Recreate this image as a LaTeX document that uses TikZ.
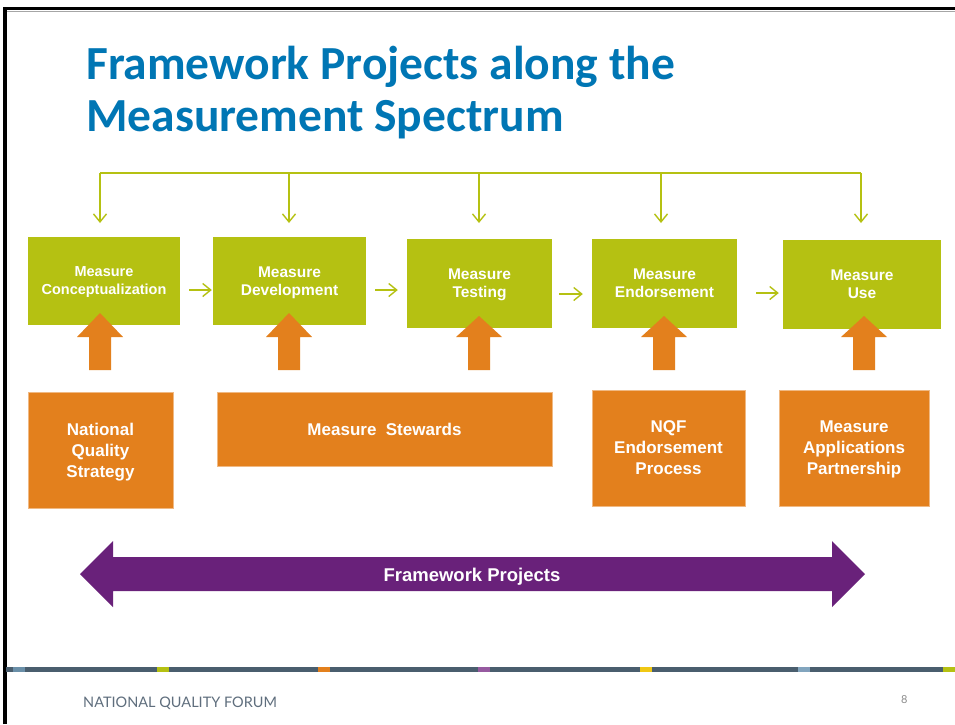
\documentclass[tikz,border=0pt]{standalone}
\usepackage{fontspec}
\usepackage{tikz}
\usetikzlibrary{arrows.meta}
\setmainfont{Liberation Sans}
\newfontfamily\titlefont{Carlito}
\newfontfamily\footfont{Lato}
\definecolor{titleblue}{RGB}{0,118,180}
\definecolor{measgreen}{RGB}{181,193,18}
\definecolor{steworange}{RGB}{227,128,29}
\definecolor{spanpurple}{RGB}{105,33,122}
\definecolor{barslate}{RGB}{74,94,110}
\definecolor{barblue}{RGB}{106,143,168}
\definecolor{barlilac}{RGB}{150,90,160}
\definecolor{baryellow}{RGB}{240,200,20}
\definecolor{barsky}{RGB}{130,165,190}
\definecolor{footgray}{RGB}{95,110,125}
\begin{document}
\begin{tikzpicture}
        [x=1pt,y=-1pt,
         measbox/.style={rectangle,fill=measgreen,text=white,inner sep=0pt,align=center,text depth=0pt,font=\bfseries\fontsize{15.5}{18}\selectfont},
         stewbox/.style={rectangle,fill=steworange,draw=steworange!55!white,line width=.6pt,text=white,inner sep=0pt,align=center,text depth=0pt,font=\bfseries\fontsize{17}{21}\selectfont},
         feed/.style={draw=measgreen,line width=1.4pt},
         flow/.style={feed,-{Straight Barb[length=8pt,width=13pt]}}]
        \useasboundingbox (0,0) rectangle (955,724);
        \fill[white] (0,0) rectangle (955,724);
        % slide frame
        \draw[line width=3.5pt] (5,724) -- (5,8.5) -- (955,8.5);
        \draw[black!35,line width=1pt] (7,11) -- (955,11);

        \node[anchor=base west,align=left,inner sep=0pt,text=titleblue,font=\titlefont\bfseries\fontsize{47.5}{52}\selectfont] (title) at (86,131) {Framework Projects along the\\Measurement Spectrum};

        % measurement spectrum
        \node[measbox,minimum width=152pt,minimum height=88pt,font=\bfseries\fontsize{14.5}{18}\selectfont] (cncp) at (104,281) {Measure\\Conceptualization};
        \node[measbox,minimum width=153pt,minimum height=88pt] (devl) at (289.5,281) {Measure\\Development};
        \node[measbox,minimum width=145pt,minimum height=89pt] (test) at (479.5,283.5) {Measure\\Testing};
        \node[measbox,minimum width=145pt,minimum height=89pt] (endo) at (664.5,283.5) {Measure\\Endorsement};
        \node[measbox,minimum width=158pt,minimum height=89pt] (muse) at (862,284.5) {Measure\\Use};

        \coordinate (bus) at (0,173);
        \coordinate (tips) at (0,223);
        \draw[feed] ([xshift=-4pt]cncp.north |- bus) -- ([xshift=-1pt]muse.north |- bus);
        \foreach \b/\dx in {cncp/-4,devl/-0.5,test/-0.5,endo/-3.5,muse/-1}
          \draw[flow] ([xshift=\dx pt]\b.north |- bus) -- ([xshift=\dx pt]\b.north |- tips);
        \foreach \a/\b/\dy/\s/\e in {cncp/devl/9/9/1,devl/test/9/9/9,test/endo/10.5/7/9,endo/muse/9.5/19/4}
          \draw[flow,shorten <=\s pt,shorten >=\e pt] ([yshift=-\dy pt]\a.east) -- ([yshift=-\dy pt]\a.east -| \b.west);

        % contributors
        \node[stewbox,minimum width=145pt,minimum height=116pt] (nqs) at (100.5,450) {National\\Quality\\Strategy};
        \node[stewbox,minimum width=335pt,minimum height=74pt] (stew) at (384.5,429) {Measure\ \ Stewards};
        \node[stewbox,minimum width=153pt,minimum height=116pt] (nqf) at (668.5,448) {NQF\\Endorsement\\Process};
        \node[stewbox,minimum width=150pt,minimum height=116pt] (map) at (854,448) {Measure\\Applications\\Partnership};

        \foreach \x/\t in {100/313,289/313,479/316,664/316,864/316}
          \fill[steworange] (\x,\t) -- (\x+23,337) -- (\x+11,337) -- (\x+11,370) -- (\x-11,370) -- (\x-11,337) -- (\x-23,337) -- cycle;

        % framework projects span
        \fill[spanpurple] (80,574) -- (113,541) -- (113,557) -- (832,557) -- (832,541) -- (865,574) -- (832,607) -- (832,591) -- (113,591) -- (113,607) -- cycle;
        \node[text=white,text depth=0pt,font=\bfseries\fontsize{18.5}{21}\selectfont] (fwk) at (472,575) {Framework Projects};

        % footer
        \fill[barslate] (6,667) rectangle (955,672);
        \foreach \x/\c in {13/barblue,157/measgreen,318/steworange,478/barlilac,640/baryellow,798/barsky,943/measgreen}
          \fill[\c] (\x,667) rectangle (\x+12,672);
        \node[anchor=base west,inner sep=0pt,text=footgray,font=\footfont\fontsize{14.5}{14}\selectfont] (forum) at (83,707) {NATIONAL QUALITY FORUM};
        \node[anchor=base west,inner sep=0pt,text=black!45,font=\footfont\fontsize{11}{11}\selectfont] (page) at (901,703) {8};
    
    \end{tikzpicture}
\end{document}
